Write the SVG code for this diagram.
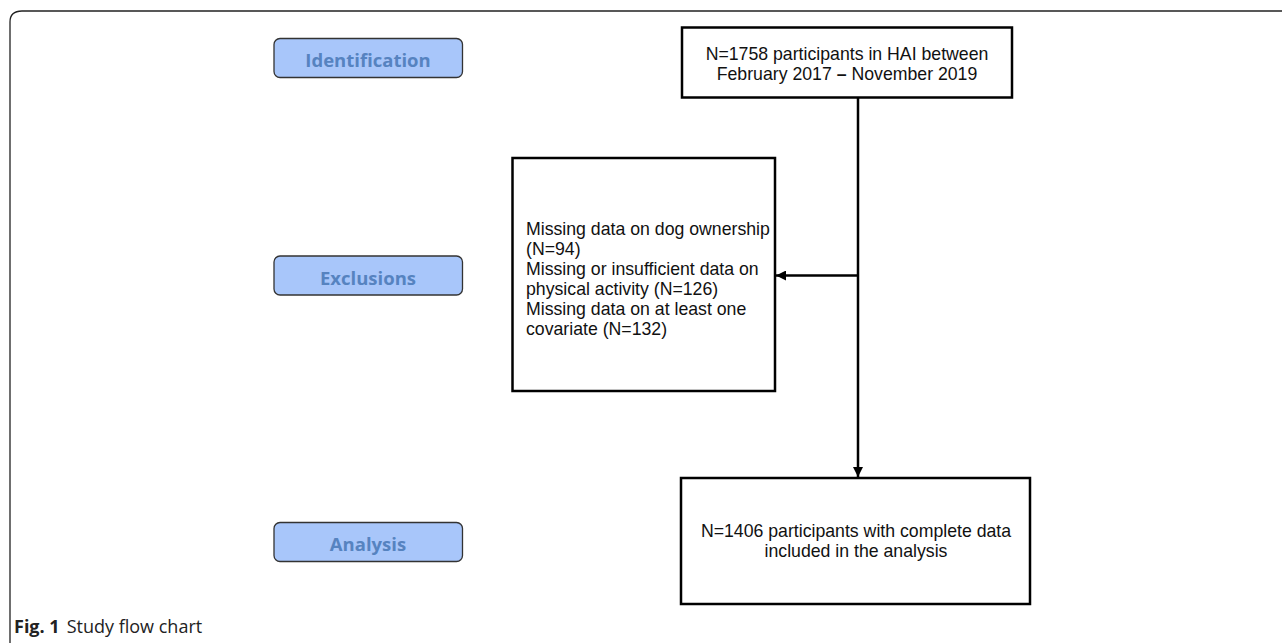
<svg xmlns="http://www.w3.org/2000/svg" width="1282" height="643" viewBox="0 0 1282 643">
<style>
.frame{fill:none;stroke:#222;stroke-width:1.3}
.lab{fill:#a8c6fa;stroke:#333;stroke-width:1.3}
.labt{font-family:"Open Sans","Liberation Sans",sans-serif;font-weight:bold;font-size:18.5px;fill:#5683c0;text-anchor:middle}
.box{fill:#fff;stroke:#000;stroke-width:2.5}
.t{font-family:"Liberation Sans",Arial,sans-serif;font-size:17.7px;fill:#111}
.c{text-anchor:middle}
.cap{font-family:"Open Sans","Liberation Sans",sans-serif;font-size:18px;fill:#222}
.ln{fill:none;stroke:#000;stroke-width:2.5}
</style>
<defs>
<marker id="ah" viewBox="0 0 10 10" refX="10" refY="5" markerWidth="4.4" markerHeight="4" orient="auto" markerUnits="strokeWidth">
<path d="M0,0 L10,5 L0,10 z" fill="#000"/>
</marker>
</defs>
<path class="frame" d="M10,643 L10,22 Q10,11 22,11 L1282,11"/>
<g id="label-identification"><rect class="lab" x="274" y="38.5" width="188.5" height="39" rx="6"/><text class="labt" x="368" y="67">Identification</text></g>
<g id="label-exclusions"><rect class="lab" x="274" y="256" width="188.5" height="39" rx="6"/><text class="labt" x="368" y="285">Exclusions</text></g>
<g id="label-analysis"><rect class="lab" x="274" y="522.5" width="188.5" height="39" rx="6"/><text class="labt" x="368" y="551">Analysis</text></g>
<g id="node-start"><rect class="box" x="682" y="27.5" width="330" height="70"/>
<text class="t c" x="847" y="60">N=1758 participants in HAI between</text>
<text class="t c" x="847" y="80">February 2017 <tspan font-weight="bold">–</tspan> November 2019</text></g>
<g id="node-exclusions"><rect class="box" x="512.5" y="158" width="262.5" height="233"/>
<text class="t" x="526" y="235">Missing data on dog ownership</text>
<text class="t" x="526" y="255">(N=94)</text>
<text class="t" x="526" y="275">Missing or insufficient data on</text>
<text class="t" x="526" y="295">physical activity (N=126)</text>
<text class="t" x="526" y="315">Missing data on at least one</text>
<text class="t" x="526" y="335">covariate (N=132)</text></g>
<g id="node-final"><rect class="box" x="681" y="478" width="349" height="126"/>
<text class="t c" x="856" y="537">N=1406 participants with complete data</text>
<text class="t c" x="856" y="557">included in the analysis</text></g>
<g id="connectors">
<line class="ln" x1="858" y1="98" x2="858" y2="477" marker-end="url(#ah)"/>
<line class="ln" x1="858" y1="275.5" x2="776" y2="275.5" marker-end="url(#ah)"/>
</g>
<text class="cap" x="14" y="633"><tspan font-weight="bold">Fig. 1</tspan><tspan dx="7">Study flow chart</tspan></text>
</svg>
